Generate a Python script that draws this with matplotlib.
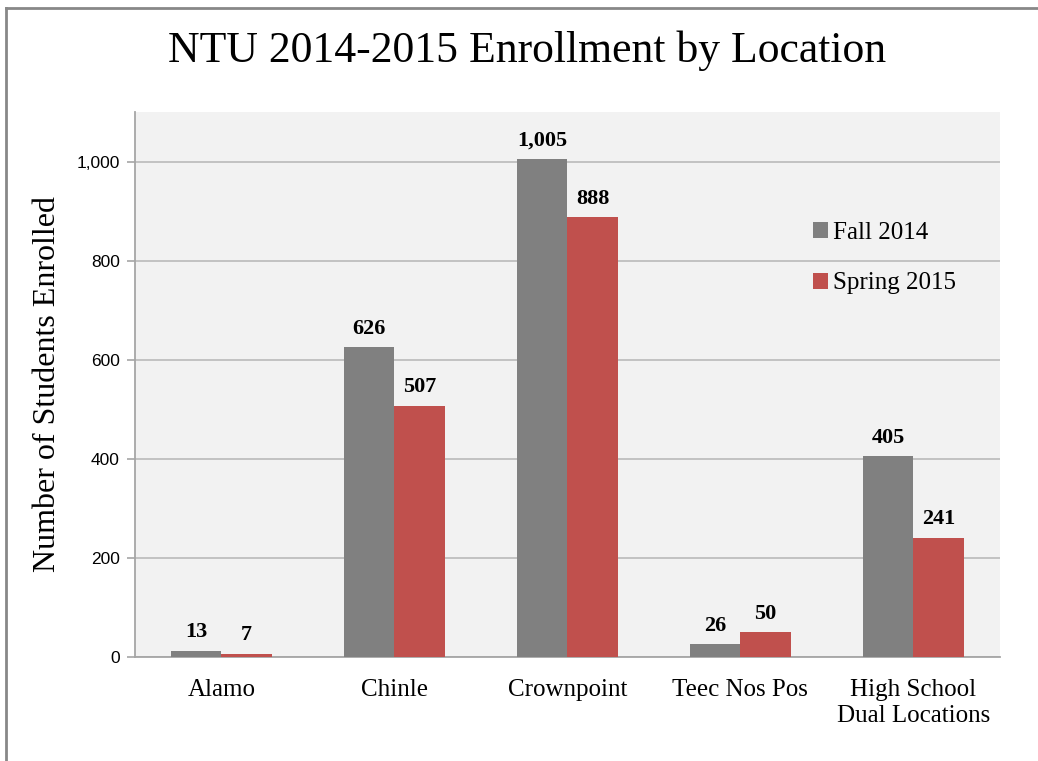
import matplotlib
matplotlib.use("Agg")
import matplotlib.pyplot as plt
from matplotlib.lines import Line2D
from matplotlib.ticker import FuncFormatter
import numpy as np

locations = ["Alamo", "Chinle", "Crownpoint", "Teec Nos Pos", "High School\nDual Locations"]
fall_2014 = [13, 626, 1005, 26, 405]
spring_2015 = [7, 507, 888, 50, 241]
series_names = ["Fall 2014", "Spring 2015"]
yticks = [0, 200, 400, 600, 800, 1000]

gray = "#808080"
red = "#c0504d"
serif = "Liberation Serif"
sans = "Liberation Sans"

fig = plt.figure(figsize=(10.38, 7.61), dpi=100)
ax = fig.add_axes([0.130, 0.1367, 0.8333, 0.7161])
ax.set_facecolor("#f2f2f2")

x = np.arange(len(locations))
w = 0.29
b1 = ax.bar(x - w / 2, fall_2014, w, color=gray, label=series_names[0], zorder=3)
b2 = ax.bar(x + w / 2, spring_2015, w, color=red, label=series_names[1], zorder=3)

for bars, vals in [(b1, fall_2014), (b2, spring_2015)]:
    for r, v in zip(bars, vals):
        ax.annotate(f"{v:,}", (r.get_x() + r.get_width() / 2, v),
                    xytext=(0, 6), textcoords="offset points",
                    ha="center", va="bottom", family=serif,
                    fontsize=16, fontweight="bold")

ax.set_xlim(-0.5, len(locations) - 0.5)
ax.set_ylim(0, 1100)
ax.set_yticks(yticks)
ax.yaxis.set_major_formatter(FuncFormatter(lambda v, p: f"{int(v):,}"))
ax.grid(axis="y", color="#bfbfbf", linewidth=1.3, zorder=0)
ax.set_xticks(x)
ax.set_xticklabels(locations, family=serif, fontsize=18, linespacing=1.2)
ax.tick_params(axis="x", length=0, pad=16)
ax.tick_params(axis="y", length=6, color="#a6a6a6", width=1.2, pad=5,
               labelsize=12.5)
for lab in ax.get_yticklabels():
    lab.set_family(sans)

for s in ["top", "right"]:
    ax.spines[s].set_visible(False)
for s in ["left", "bottom"]:
    ax.spines[s].set_color("#a6a6a6")
    ax.spines[s].set_linewidth(1.3)

ax.set_ylabel("Number of Students Enrolled", family=serif, fontsize=23, labelpad=10)

ax.legend(loc="upper left", bbox_to_anchor=(0.758, 0.84), frameon=False,
          prop={"family": serif, "size": 18}, handlelength=0.6,
          handleheight=0.6, handletextpad=0.2, labelspacing=1.15)

fig.suptitle("NTU 2014-2015 Enrollment by Location", family=serif,
             fontsize=31.5, x=0.508, y=0.96)

# outer frame (left and top edges)
fig.add_artist(Line2D([0.0055, 0.0055], [0, 0.99], transform=fig.transFigure,
                      color="#888888", linewidth=2))
fig.add_artist(Line2D([0.0055, 1], [0.99, 0.99], transform=fig.transFigure,
                      color="#888888", linewidth=2))

fig.savefig("out.png", dpi=100)
